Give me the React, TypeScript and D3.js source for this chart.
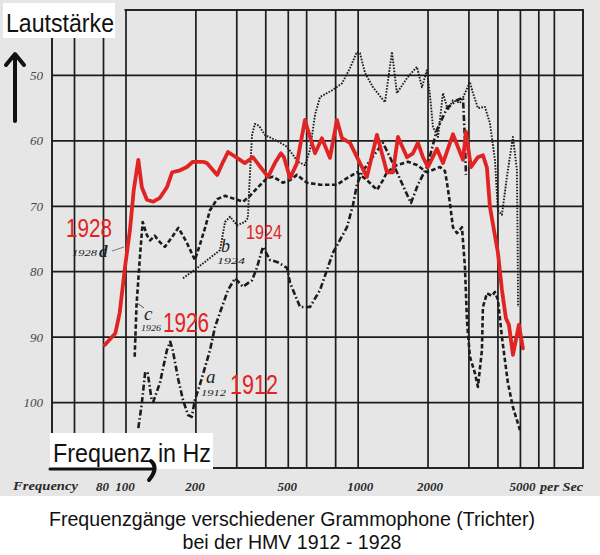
import React from "react";
import * as d3 from "d3";

// ---- data (frequency in Hz, level value on the printed scale) ----
const yTickValues = [50, 60, 70, 80, 90, 100];
const xGridFreqs = [60, 80, 100, 200, 300, 400, 500, 600, 800, 1000, 2000, 3000, 4000, 5000, 6000, 7000];
const xLabelFreqs = [80, 100, 200, 500, 1000, 2000, 5000];
const xLabelTexts = ["80", "100", "200", "500", "1000", "2000", "5000"];

const curve1912: [number, number][] = [
  [113, 103.9], [117, 100.1], [121, 95.3], [124, 95.5], [129, 99.6], [131, 99.9], [140, 97.0], [150, 92.0],
  [155, 90.7], [159, 92.0], [168, 96.5], [176, 99.6], [185, 101.9], [192, 102.2], [198, 99.6], [208, 97.3],
  [219, 94.6], [230, 92.0], [242, 88.4], [259, 85.4], [275, 82.8], [295, 81.0], [319, 82.3], [349, 81.3],
  [367, 79.3], [389, 76.2], [417, 78.2], [447, 78.5], [494, 79.4], [509, 81.7], [562, 85.4], [620, 85.4],
  [685, 82.8], [779, 77.1], [895, 73.2], [950, 69.8], [988, 66.7], [1038, 64.8], [1147, 62.6], [1279, 60.3],
  [1371, 62.5], [1469, 64.8], [1591, 67.5], [1688, 69.5], [1809, 66.7], [1978, 64.0], [2185, 58.3],
  [2413, 55.0], [2664, 53.8], [2828, 53.4], [2884, 59.9], [2913, 65.2],
];

const curve1924: [number, number][] = [
  [176, 81.0], [198, 79.7], [230, 77.9], [254, 76.7], [267, 72.4], [281, 71.6], [301, 72.9], [325, 72.4],
  [335, 71.8], [339, 67.5], [349, 59.1], [359, 57.4], [374, 57.7], [397, 59.1], [447, 60.0], [494, 60.9],
  [550, 63.2], [590, 63.7], [620, 61.4], [652, 56.0], [685, 53.3], [779, 52.2], [852, 51.2], [922, 48.9],
  [988, 46.4], [1018, 46.6], [1070, 49.6], [1158, 51.8], [1305, 54.1], [1398, 46.4], [1469, 52.7],
  [1623, 50.4], [1792, 48.7], [1883, 51.8], [1978, 49.2], [2038, 53.0], [2100, 57.9], [2207, 59.4],
  [2319, 52.7], [2436, 55.3], [2560, 53.8], [2745, 54.2], [2828, 53.4], [3030, 51.0], [3122, 52.7],
  [3280, 55.0], [3516, 54.8], [3695, 57.3], [3883, 62.9], [4000, 70.6], [4162, 71.3], [4373, 65.5],
  [4642, 59.4], [4830, 64.5], [4870, 78.2], [4880, 85.4],
];

const curve1926: [number, number][] = [
  [109, 93.0], [111, 85.1], [115, 77.4], [118, 72.4], [123, 74.4], [127, 75.2], [133, 74.5], [140, 75.5],
  [147, 76.2], [158, 74.7], [168, 73.3], [176, 74.5], [183, 75.6], [198, 78.2], [208, 75.9], [219, 73.3],
  [230, 70.6], [247, 68.9], [267, 68.4], [301, 69.0], [319, 69.3], [342, 68.4], [370, 67.1], [405, 65.7],
  [430, 65.5], [474, 66.4], [509, 66.0], [545, 65.2], [602, 66.4], [685, 66.7], [810, 66.7], [895, 65.7],
  [988, 64.8], [1091, 66.0], [1205, 67.5], [1279, 66.0], [1330, 64.8], [1469, 63.7], [1639, 63.2],
  [1792, 63.7], [1978, 64.8], [2251, 64.0], [2365, 64.6], [2413, 66.4], [2485, 69.5], [2560, 73.2],
  [2664, 74.1], [2800, 73.2], [2884, 79.3], [2942, 87.4], [2971, 89.4], [3030, 93.0], [3184, 95.5],
  [3280, 97.6], [3413, 92.0], [3447, 85.4], [3586, 83.3], [3769, 83.7], [3883, 83.1], [4000, 84.3],
  [4162, 90.0], [4287, 93.5], [4416, 97.0], [4642, 100.7], [4975, 104.2],
];

const curve1928: [number, number][] = [
  [81, 91.2], [90, 89.4], [94, 86.2], [99, 79.3], [104, 73.6], [108, 67.5], [113, 62.9], [117, 67.1],
  [123, 69.0], [131, 69.3], [140, 68.7], [150, 67.1], [158, 64.8], [171, 64.5], [183, 64.0], [194, 63.2],
  [215, 63.2], [223, 63.4], [247, 65.2], [262, 63.2], [275, 61.7], [301, 62.6], [325, 63.4], [352, 62.5],
  [389, 64.5], [409, 65.5], [438, 63.4], [465, 61.9], [479, 62.5], [509, 65.7], [545, 63.4], [590, 56.8],
  [620, 59.4], [652, 61.9], [698, 59.6], [756, 62.6], [810, 56.8], [852, 59.6], [922, 60.3], [1018, 63.4],
  [1091, 65.5], [1205, 59.1], [1279, 62.5], [1330, 64.8], [1412, 64.8], [1484, 59.4], [1623, 62.5],
  [1722, 61.9], [1809, 60.3], [1901, 62.5], [1998, 64.0], [2185, 61.2], [2319, 63.4], [2560, 59.0],
  [2828, 62.9], [2913, 58.6], [3060, 64.0], [3280, 62.5], [3447, 62.2], [3586, 64.1], [3695, 70.1],
  [4000, 77.1], [4162, 82.8], [4330, 87.1], [4460, 88.1], [4642, 92.7], [4926, 88.1], [5125, 91.7],
];

const RED = "#e02424";
const BG = "#e6e6e6";
const INK = "#1c1c1c";

export default function App() {
  const x = d3.scaleLog().domain([48, 9300]).range([52, 583]);
  const y = d3.scaleLinear().domain([40, 110]).range([10, 468]);
  const line = d3
    .line<[number, number]>()
    .x((d) => x(d[0]))
    .y((d) => y(d[1]))
    .curve(d3.curveLinear);

  const [x0, x1] = x.range();
  const [y0, y1] = y.range();

  return (
    <svg
      width={600}
      height={555}
      style={{ position: "absolute", left: 0, top: 0 }}
      fontFamily="'Liberation Sans', Arial, sans-serif"
    >
      <rect x={0} y={0} width={600} height={555} fill="#ffffff" />
      <rect x={0} y={0} width={600} height={496} fill={BG} />

      {/* grid */}
      <g stroke={INK} strokeWidth={1.7} fill="none">
        {yTickValues.map((v) => (
          <line key={"h" + v} x1={x0} x2={x1} y1={y(v)} y2={y(v)} />
        ))}
        {xGridFreqs.map((f) => (
          <line key={"v" + f} x1={x(f)} x2={x(f)} y1={y0} y2={y1} />
        ))}
        <rect x={x0} y={y0} width={x1 - x0} height={y1 - y0} strokeWidth={1.9} />
      </g>
      {/* the scan's top-left corner has no grid */}
      <rect x={44} y={0} width={80.5} height={37} fill={BG} />

      {/* y tick labels */}
      <g fontFamily="'Liberation Serif', serif" fontStyle="italic" fontSize={13} fill="#474747" textAnchor="end">
        {yTickValues.map((v) => (
          <text key={"yl" + v} x={43} y={y(v) + 4.5}>
            {v}
          </text>
        ))}
      </g>

      {/* x tick labels */}
      <g fontFamily="'Liberation Serif', serif" fontStyle="italic" fontWeight={700} fontSize={13} fill="#2a2a2a" textAnchor="middle">
        {xLabelFreqs.map((f, i) => (
          <text key={"xl" + f} x={x(f) + (f >= 1000 ? 2 : -1)} y={491}>
            {xLabelTexts[i]}
          </text>
        ))}
        <text x={13} y={490} textAnchor="start" textLength={65} lengthAdjust="spacingAndGlyphs">
          Frequency
        </text>
        <text x={540} y={491} textAnchor="start" textLength={43} lengthAdjust="spacingAndGlyphs">
          per Sec
        </text>
      </g>

      {/* curves */}
      <g fill="none" strokeLinejoin="round">
        <path d={line(curve1926) || ""} stroke={INK} strokeWidth={2.6} strokeDasharray="4.5 2.5" />
        <path d={line(curve1912) || ""} stroke={INK} strokeWidth={2.6} strokeDasharray="6 2.5 1.6 2.5" />
        <path d={line(curve1924) || ""} stroke={INK} strokeWidth={1.9} strokeDasharray="1.6 1.4" />
        <path d={line(curve1928) || ""} stroke={RED} strokeWidth={3.8} strokeLinecap="round" />
      </g>

      {/* handwritten curve labels */}
      <g fontFamily="'Liberation Serif', serif" fontStyle="italic" fill="#222">
        <text x={72} y={256} fontSize={9} textLength={25} lengthAdjust="spacingAndGlyphs">1928</text>
        <text x={99} y={257} fontSize={17} fontWeight={700}>d</text>
        <line x1={112} y1={251} x2={124} y2={247} stroke="#777" strokeWidth={1} />
        <text x={144} y={320} fontSize={19}>c</text>
        <text x={141} y={331} fontSize={9} textLength={20} lengthAdjust="spacingAndGlyphs">1926</text>
        <line x1={137} y1={303} x2={144} y2={308} stroke="#555" strokeWidth={1} />
        <text x={221} y={252} fontSize={18}>b</text>
        <text x={217} y={264} fontSize={9} textLength={28} lengthAdjust="spacingAndGlyphs">1924</text>
        <text x={206} y={383} fontSize={19}>a</text>
        <text x={201} y={396} fontSize={9} textLength={25} lengthAdjust="spacingAndGlyphs">1912</text>
      </g>

      {/* red year labels */}
      <g fill={RED}>
        <text x={66} y={237} fontSize={26} textLength={46} lengthAdjust="spacingAndGlyphs">1928</text>
        <text x={246} y={239} fontSize={21} textLength={36} lengthAdjust="spacingAndGlyphs">1924</text>
        <text x={163} y={332} fontSize={28} textLength={46} lengthAdjust="spacingAndGlyphs">1926</text>
        <text x={230} y={394} fontSize={28} textLength={48} lengthAdjust="spacingAndGlyphs">1912</text>
      </g>

      {/* Lautstärke label + arrow */}
      <rect x={3} y={3} width={112} height={35} fill="#ffffff" />
      <text x={6} y={32} fontSize={25} fill="#111" textLength={108} lengthAdjust="spacingAndGlyphs">
        Lautstärke
      </text>
      <g stroke="#111" strokeWidth={4} fill="none" strokeLinecap="round">
        <line x1={15} y1={57} x2={15} y2={121} />
        <path d="M6,65 L15,54 L24,65" strokeLinejoin="round" />
      </g>

      {/* Frequenz in Hz label + arrow */}
      <rect x={50} y={433} width={163} height={36} fill="#ffffff" />
      <text x={53} y={462} fontSize={25} fill="#111" textLength={158} lengthAdjust="spacingAndGlyphs">
        Frequenz in Hz
      </text>
      <g stroke="#111" fill="none" strokeLinecap="round">
        <line x1={50} y1={469} x2={153} y2={469} strokeWidth={3} />
        <path d="M151,461 Q159,468 149,480" strokeWidth={4} />
      </g>

      {/* caption */}
      <g fill="#111" fontSize={19.6} textAnchor="middle">
        <text x={292} y={526}>Frequenzgänge verschiedener Grammophone (Trichter)</text>
        <text x={292} y={549}>bei der HMV 1912 - 1928</text>
      </g>
    </svg>
  );
}
